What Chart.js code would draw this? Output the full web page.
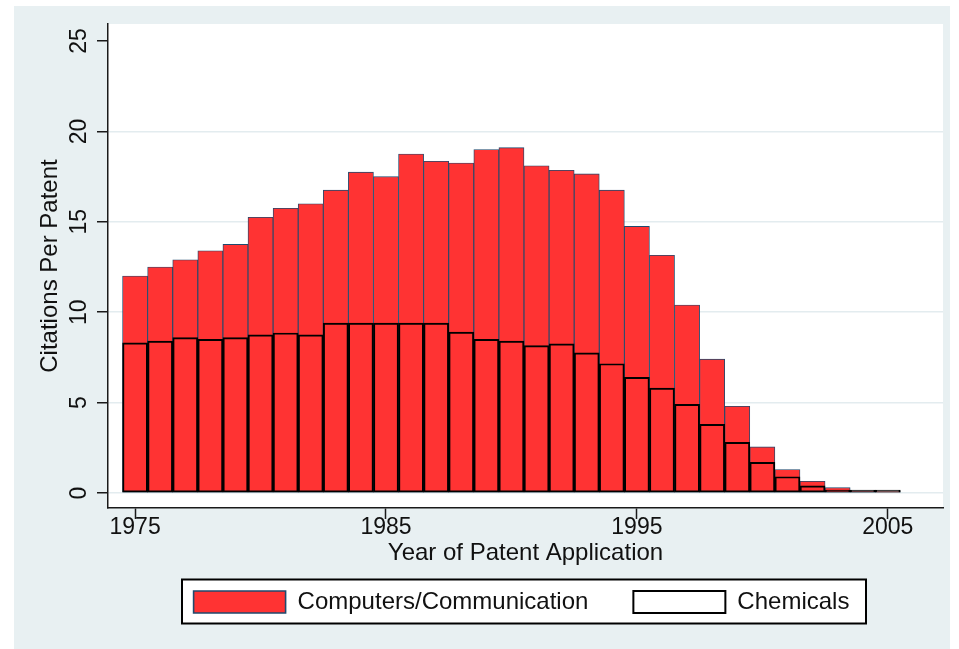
<!DOCTYPE html>
<html>
<head>
<meta charset="utf-8">
<script src="https://cdn.jsdelivr.net/npm/chart.js@4.4.1/dist/chart.umd.min.js"></script>
<style>
  html, body { margin: 0; padding: 0; background: #ffffff; }
  #wrap { width: 959px; height: 649px; }
</style>
</head>
<body>
<div id="wrap"><canvas id="chart" width="959" height="649"></canvas></div>
<script>
// Average forward citations per patent, by application year
const years = [1975, 1976, 1977, 1978, 1979, 1980, 1981, 1982, 1983, 1984,
               1985, 1986, 1987, 1988, 1989, 1990, 1991, 1992, 1993, 1994,
               1995, 1996, 1997, 1998, 1999, 2000, 2001, 2002, 2003, 2004, 2005];

const computersComm = [12.0, 12.5, 12.9, 13.4, 13.75, 15.25, 15.75, 16.0, 16.75, 17.75,
                       17.5, 18.75, 18.35, 18.25, 19.0, 19.1, 18.1, 17.85, 17.65, 16.75,
                       14.75, 13.15, 10.4, 7.4, 4.8, 2.55, 1.3, 0.65, 0.3, 0.1, 0.08];

const chemicals = [8.3, 8.4, 8.6, 8.5, 8.6, 8.75, 8.85, 8.75, 9.4, 9.4,
                   9.4, 9.4, 9.4, 8.9, 8.5, 8.4, 8.15, 8.25, 7.75, 7.15,
                   6.4, 5.8, 4.9, 3.8, 2.8, 1.7, 0.9, 0.4, 0.15, 0.05, 0.05];

const xTickYears = [1975, 1985, 1995, 2005];
const yTickValues = [0, 5, 10, 15, 20, 25];

const FONT = "'Liberation Sans', Arial, Helvetica, sans-serif";
const INK = '#111111';
const RED = '#ff3333';
const NAVY = '#1f4a6e';
const REGION = '#e8f0f2';
const GRID = '#e3ecef';

// Backgrounds: outer graph region, white plot region, framed legend
const backdrop = {
  id: 'backdrop',
  afterLayout(chart) {
    // nudge the legend row slightly left inside its frame
    chart.legend.left -= 4;
    chart.legend.right -= 4;
  },
  beforeDraw(chart) {
    const { ctx, chartArea: a, legend } = chart;
    ctx.save();
    ctx.fillStyle = '#ffffff';
    ctx.fillRect(0, 0, chart.width, chart.height);
    ctx.fillStyle = REGION;
    ctx.fillRect(14, 6, 936, 643);
    ctx.fillStyle = '#ffffff';
    ctx.fillRect(a.left, a.top, a.right - a.left, a.bottom - a.top);
    // legend frame
    const cx = (a.left + a.right) / 2 - 1.5;
    const fx = cx - 342, fy = legend.top + 34.5, fw = 684, fh = 44;
    ctx.fillRect(fx, fy, fw, fh);
    ctx.strokeStyle = '#000000';
    ctx.lineWidth = 2;
    ctx.strokeRect(fx, fy, fw, fh);
    ctx.restore();
  }
};

new Chart(document.getElementById('chart'), {
  type: 'bar',
  data: {
    labels: years,
    datasets: [
      {
        label: 'Chemicals',
        data: chemicals,
        backgroundColor: 'rgba(0,0,0,0)',
        borderColor: '#000000',
        borderWidth: 1.3,
        borderSkipped: false,
        minBarLength: 3,
        grouped: false,
        barPercentage: 1,
        categoryPercentage: 1
      },
      {
        label: 'Computers/Communication',
        data: computersComm,
        backgroundColor: RED,
        borderColor: NAVY,
        borderWidth: 0.9,
        borderSkipped: false,
        grouped: false,
        barPercentage: 1,
        categoryPercentage: 1
      }
    ]
  },
  options: {
    responsive: false,
    animation: false,
    devicePixelRatio: 1,
    layout: { padding: { left: 14, top: 24, right: 16, bottom: 25 } },
    scales: {
      x: {
        type: 'linear',
        min: 1973.92,
        max: 2007.2,
        offset: false,
        afterBuildTicks: s => { s.ticks = xTickYears.map(v => ({ value: v })); },
        afterFit: s => { s.height = 37; },
        grid: { offset: false, drawOnChartArea: false, drawTicks: true, tickLength: 11, tickColor: '#1a1a1a', tickWidth: 1.5 },
        border: { display: true, color: '#1a1a1a', width: 1.5 },
        ticks: { callback: v => String(v), color: INK, font: { family: FONT, size: 23 }, padding: -5, maxRotation: 0, autoSkip: false },
        title: { display: true, text: 'Year of Patent Application', color: INK, font: { family: FONT, size: 24 }, padding: { top: 0, bottom: -23 } }
      },
      y: {
        type: 'linear',
        min: -0.83,
        max: 25.94,
        afterBuildTicks: s => { s.ticks = yTickValues.map(v => ({ value: v })); },
        afterFit: s => { s.width = 94; },
        grid: {
          color: c => (c.tick && c.tick.value === 25) ? 'rgba(0,0,0,0)' : GRID,
          lineWidth: 1.5,
          drawTicks: true, tickLength: 11, tickColor: '#1a1a1a', tickWidth: 1.5
        },
        border: { display: true, color: '#1a1a1a', width: 1.5 },
        ticks: { callback: v => String(v), color: INK, font: { family: FONT, size: 23 }, padding: 5, minRotation: 90, maxRotation: 90, crossAlign: 'center', autoSkip: false },
        title: { display: true, text: 'Citations Per Patent', color: INK, font: { family: FONT, size: 24 }, padding: { top: 21.6, bottom: 0 } }
      }
    },
    plugins: {
      tooltip: { enabled: false },
      legend: {
        position: 'bottom',
        fullSize: false,
        reverse: true,
        labels: {
          color: INK,
          font: { family: FONT, size: 24 },
          boxWidth: 92,
          boxHeight: 22,
          padding: 45,
          generateLabels: chart => Chart.defaults.plugins.legend.labels.generateLabels(chart)
            .map(item => Object.assign(item, { lineWidth: item.text === 'Chemicals' ? 2 : 1.6 }))
        }
      }
    }
  },
  plugins: [backdrop]
});
</script>
</body>
</html>
